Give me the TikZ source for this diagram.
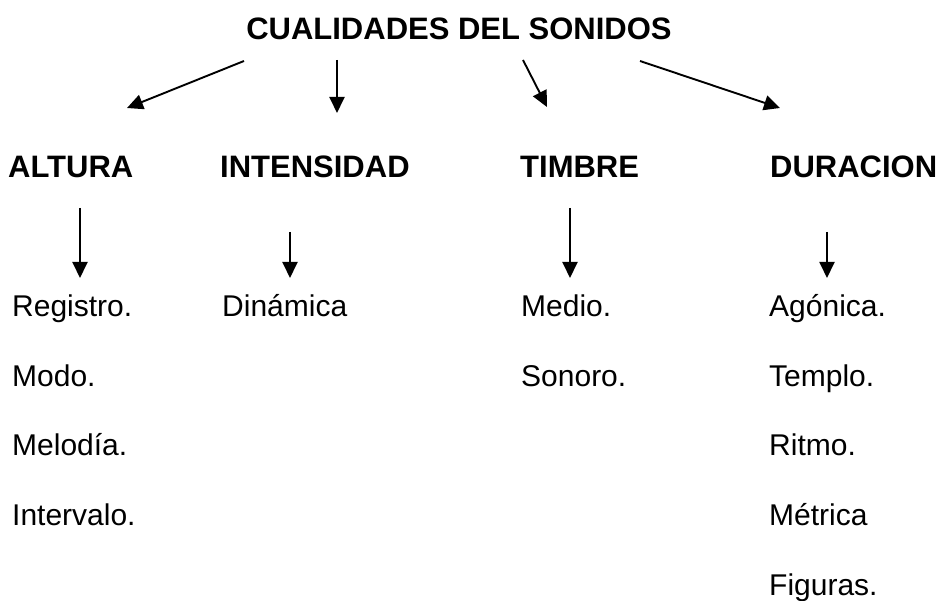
\documentclass[tikz,border=0pt]{standalone}
\usepackage{fontspec}
\setmainfont{Liberation Sans}
\usetikzlibrary{arrows.meta}
\tikzset{>={Triangle[length=16pt,width=15pt]}}

\begin{document}
\begin{tikzpicture}[x=1pt, y=-1pt,
    txt/.style={inner sep=0pt, anchor=base west, font=\fontsize{30}{36}\selectfont},
    head/.style={txt, font=\fontsize{31}{37}\selectfont\bfseries},
    flecha/.style={->, line width=1.9pt}]
    \useasboundingbox (0,0) rectangle (938,601);
    % titulo
    \node[head, anchor=base] (titulo) at (459,40) {CUALIDADES DEL SONIDOS};
    % cualidades
    \node[head] (altura) at (8,178) {ALTURA};
    \node[head] (intensidad) at (220,178) {INTENSIDAD};
    \node[head] (timbre) at (520,178) {TIMBRE};
    \node[head] (duracion) at (770,178) {DURACION};
    % flechas del titulo
    \coordinate (t1) at (244,61);  \coordinate (a1) at (127,108);
    \coordinate (t2) at (337,60);  \coordinate (a2) at (337,113);
    \coordinate (t3) at (523,60);  \coordinate (a3) at (547,107);
    \coordinate (t4) at (640,61);  \coordinate (a4) at (780,108);
    \foreach \i in {1,...,4}
        \draw[flecha] (t\i) -- (a\i);
    % flechas de cada cualidad
    \coordinate (b1) at (80,208);   \coordinate (c1) at (80,278);
    \coordinate (b2) at (290,232);  \coordinate (c2) at (290,278);
    \coordinate (b3) at (570,208);  \coordinate (c3) at (570,278);
    \coordinate (b4) at (827,232);  \coordinate (c4) at (827,278);
    \foreach \i in {1,...,4}
        \draw[flecha] (b\i) -- (c\i);
    % elementos
    \foreach \t [count=\k] in {Registro., Modo., Melodía., Intervalo.}
        \node[txt] (alt\k) at (12,{317+69.5*(\k-1)}) {\t};
    \node[txt] (int1) at (222,317) {Dinámica};
    \foreach \t [count=\k] in {Medio., Sonoro.}
        \node[txt] (tim\k) at (521,{317+69.5*(\k-1)}) {\t};
    \foreach \t [count=\k] in {Agónica., Templo., Ritmo., Métrica, Figuras.}
        \node[txt] (dur\k) at (769,{317+69.5*(\k-1)}) {\t};
\end{tikzpicture}
\end{document}
